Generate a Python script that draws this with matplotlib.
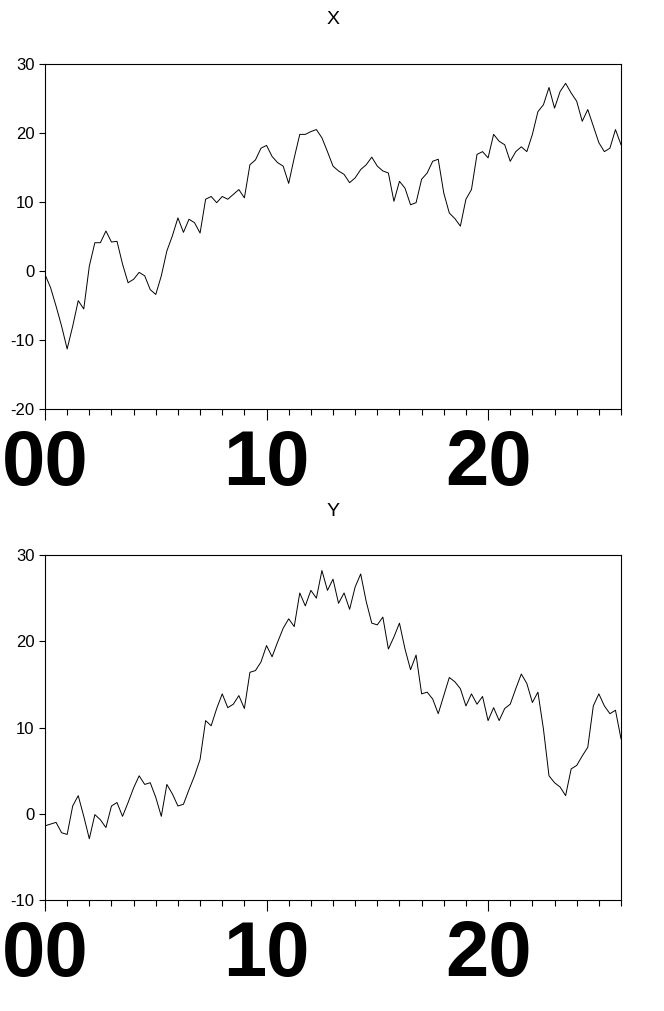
import numpy as np
import matplotlib.pyplot as plt
from matplotlib.ticker import MultipleLocator

# valores leidos cada 0.25 unidades
x_vals = [-0.5, -2.4, -5.1, -8.0, -11.3, -8.0, -4.3, -5.5, 0.7, 4.1, 4.1, 5.8, 4.2, 4.3, 1.0, -1.7,
          -1.2, -0.2, -0.7, -2.7, -3.4, -0.7, 2.9, 5.1, 7.7, 5.6, 7.5, 7.0, 5.5, 10.4, 10.8, 9.9,
          10.8, 10.4, 11.1, 11.8, 10.6, 15.4, 16.1, 17.8, 18.2, 16.6, 15.7, 15.2, 12.7, 16.4, 19.8, 19.8,
          20.2, 20.5, 19.3, 17.3, 15.2, 14.5, 14.0, 12.8, 13.5, 14.7, 15.4, 16.5, 15.2, 14.5, 14.2, 10.1,
          13.0, 12.0, 9.6, 9.9, 13.3, 14.2, 15.9, 16.2, 11.3, 8.4, 7.6, 6.5, 10.4, 11.8, 16.9, 17.3,
          16.4, 19.8, 18.8, 18.3, 15.9, 17.3, 18.0, 17.3, 19.8, 23.1, 24.1, 26.6, 23.6, 26.0, 27.2, 25.8,
          24.6, 21.7, 23.4, 21.0, 18.6, 17.3, 17.8, 20.5, 18.3]
y_vals = [-1.4, -1.2, -1.0, -2.2, -2.4, 0.9, 2.1, -0.3, -2.9, -0.1, -0.7, -1.6, 0.9, 1.3, -0.3, 1.3,
          3.0, 4.4, 3.4, 3.6, 1.9, -0.3, 3.4, 2.3, 0.9, 1.1, 2.8, 4.4, 6.3, 10.8, 10.2, 12.2,
          13.9, 12.3, 12.7, 13.7, 12.2, 16.4, 16.6, 17.6, 19.5, 18.2, 19.9, 21.5, 22.6, 21.7, 25.6, 24.1,
          25.9, 25.0, 28.2, 25.9, 27.2, 24.4, 25.6, 23.7, 26.3, 27.8, 24.6, 22.1, 21.9, 22.8, 19.1, 20.5,
          22.1, 19.1, 16.7, 18.4, 13.9, 14.1, 13.3, 11.6, 13.7, 15.8, 15.3, 14.5, 12.5, 13.9, 12.7, 13.6,
          10.8, 12.3, 10.8, 12.2, 12.7, 14.5, 16.2, 15.1, 12.9, 14.1, 9.8, 4.4, 3.6, 3.1, 2.1, 5.2,
          5.6, 6.7, 7.7, 12.5, 13.9, 12.5, 11.6, 12.0, 8.7]
t = np.arange(len(x_vals)) * 0.25
xtick_labels = ['00', '10', '20']

plt.rcParams['font.family'] = ['Liberation Sans', 'DejaVu Sans']
plt.rcParams['axes.unicode_minus'] = False
fig = plt.figure(figsize=(6.64, 10.11), dpi=100)
W, H = 664, 1011

def panel(top, bottom, serie, titulo, ylim):
    ax = fig.add_axes([45 / W, 1 - bottom / H, (621 - 45) / W, (bottom - top) / H])
    ax.plot(t, serie, color='black', lw=0.7)
    ax.set_xlim(0, 26)
    ax.set_ylim(*ylim)
    ax.set_yticks(np.arange(ylim[0], ylim[1] + 1, 10))
    ax.tick_params(axis='y', labelsize=12, direction='out', length=4, width=0.8)
    ax.set_xticks([0, 10, 20])
    ax.set_xticklabels(xtick_labels, fontsize=56, fontweight='bold')
    ax.xaxis.set_minor_locator(MultipleLocator(1))
    ax.tick_params(axis='x', which='major', length=8, width=0.8, pad=6)
    ax.tick_params(axis='x', which='minor', length=4, width=0.8)
    for s in ax.spines.values():
        s.set_linewidth(0.8)
    fig.text(333 / W, 1 - (top - 44) / H, titulo, ha='center', va='center', fontsize=14)
    return ax

panel(64, 409, x_vals, 'X', (-20, 30))
panel(555, 900, y_vals, 'Y', (-10, 30))

fig.savefig('out.png', dpi=100)
